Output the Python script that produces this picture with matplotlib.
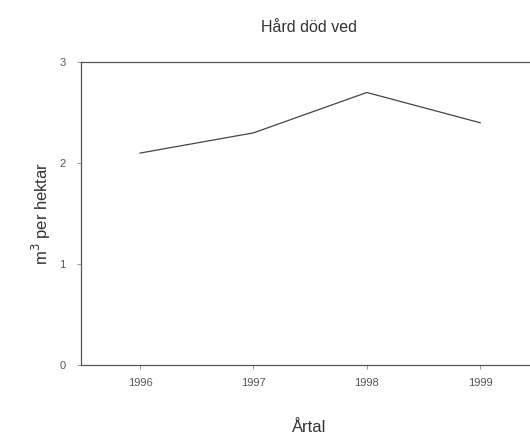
import matplotlib
matplotlib.use("Agg")
import matplotlib.pyplot as plt

plt.rcParams["font.family"] = ["Liberation Sans", "DejaVu Sans"]

years = [1996, 1997, 1998, 1999]
volume = [2.1, 2.3, 2.7, 2.4]
y_ticks = [0, 1, 2, 3]

fig = plt.figure(figsize=(5.30, 4.41), dpi=100)
ax = fig.add_axes([0.153, 0.172, 0.860, 0.687])

ax.plot(years, volume, color="#444444", linewidth=0.9)

ax.set_xlim(1995.48, 1999.5)
ax.set_ylim(0, 3)
ax.set_xticks(years)
ax.set_yticks(y_ticks)
ax.tick_params(axis="both", direction="out", length=3, width=0.6,
               colors="#888888", labelcolor="#555555", labelsize=8)
ax.tick_params(axis="x", pad=6)
ax.tick_params(axis="y", pad=8)

for side in ["left", "top", "bottom"]:
    ax.spines[side].set_color("#555555")
    ax.spines[side].set_linewidth(0.9)
ax.spines["right"].set_visible(False)

ax.set_title("Hård död ved", fontsize=11.5, color="#333333", pad=22)
ax.set_ylabel("m$^3$ per hektar", fontsize=12, color="#333333", labelpad=5)
ax.set_xlabel("Årtal", fontsize=12, color="#333333", labelpad=23)

fig.savefig("out.png", dpi=100)
